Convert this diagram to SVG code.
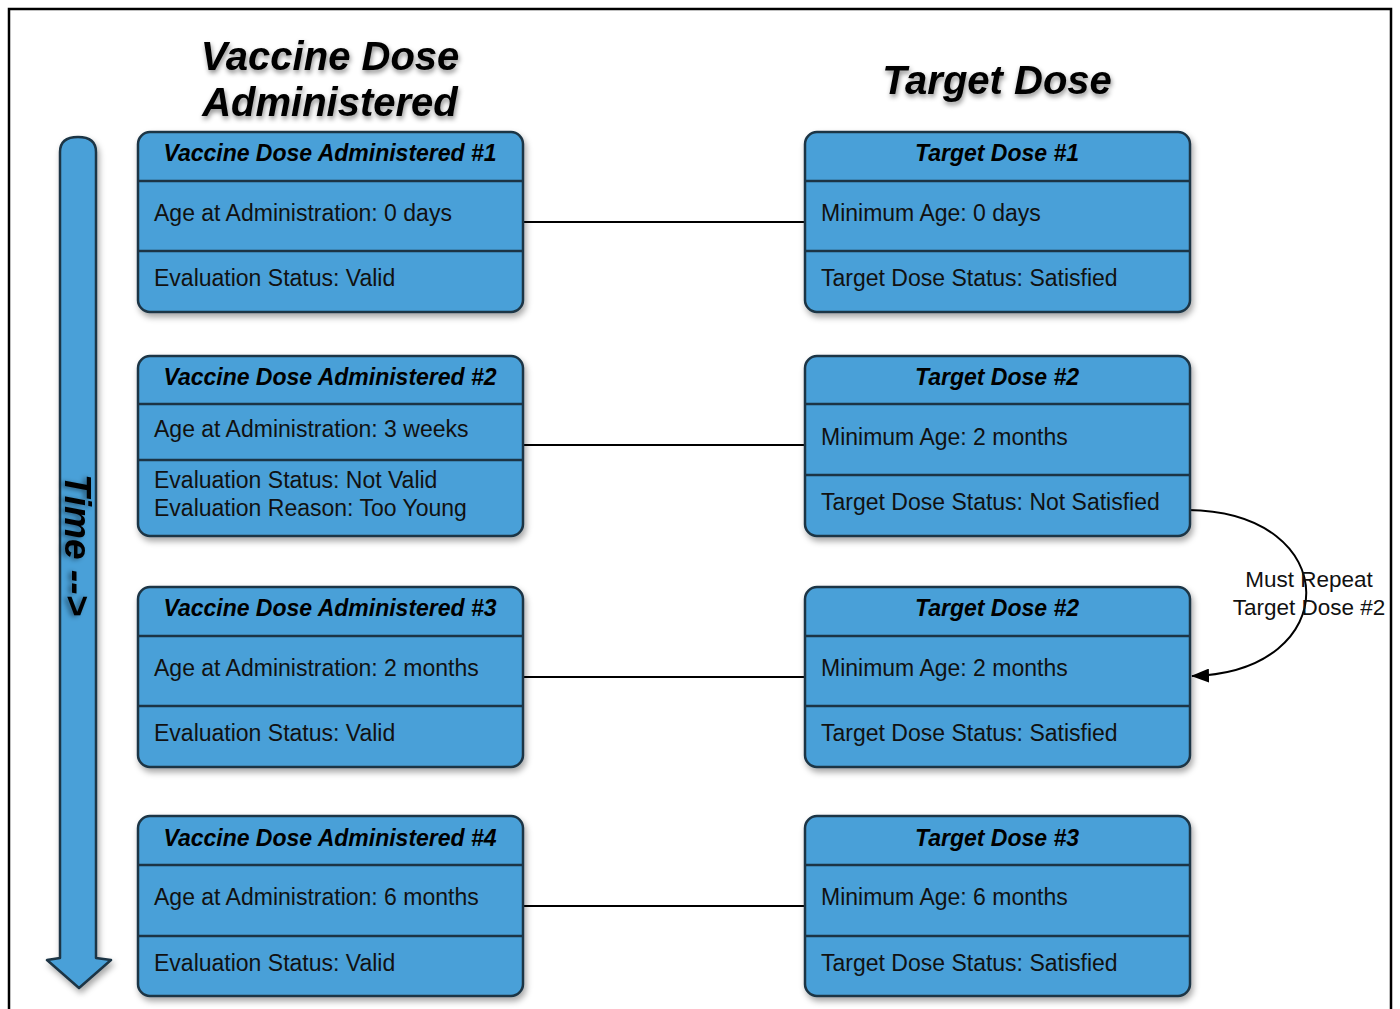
<svg xmlns="http://www.w3.org/2000/svg" width="1400" height="1009" viewBox="0 0 1400 1009">
<defs>
<filter id="sh" x="-10%" y="-10%" width="125%" height="130%">
<feDropShadow dx="2" dy="4" stdDeviation="3" flood-color="#000" flood-opacity="0.35"/>
</filter>
<filter id="tsh" x="-10%" y="-20%" width="120%" height="150%">
<feDropShadow dx="1" dy="3" stdDeviation="2.5" flood-color="#000" flood-opacity="0.45"/>
</filter>
<marker id="ah" markerWidth="18" markerHeight="14" refX="17" refY="7" orient="auto" markerUnits="userSpaceOnUse">
<path d="M0,0 L18,7 L0,14 z" fill="#000"/>
</marker>
</defs>
<style>
.box{fill:#4aa0d8;stroke:#1c3445;stroke-width:2.5}
.div{stroke:#1c3445;stroke-width:2.5}
.hd{font-family:"Liberation Sans",Arial,sans-serif;font-weight:bold;font-style:italic;font-size:23px;fill:#000;text-anchor:middle}
.tx{font-family:"Liberation Sans",Arial,sans-serif;font-size:23px;fill:#111}
.title{font-family:"Liberation Sans",Arial,sans-serif;font-weight:bold;font-style:italic;font-size:40px;fill:#000;text-anchor:middle}
.conn{stroke:#000;stroke-width:2;fill:none}
.lbl{font-family:"Liberation Sans",Arial,sans-serif;font-size:22.5px;fill:#111;text-anchor:middle}
</style>
<rect width="1400" height="1009" fill="#fff"/>
<path d="M9,1009 V9 H1391 V1009" fill="none" stroke="#000" stroke-width="2.5"/>

<g id="titles" filter="url(#tsh)">
<text class="title" x="330" y="70">Vaccine Dose</text>
<text class="title" x="330" y="116">Administered</text>
<text class="title" x="997" y="94">Target Dose</text>
</g>

<g id="time-arrow">
<path d="M60,152 Q60,137 78,137 Q96,137 96,152 L96,958 L111,960 L79,988 L47,960 L60,958 Z" fill="#4aa0d8" stroke="#1c3445" stroke-width="2.5" stroke-linejoin="round" filter="url(#sh)"/>
<text transform="translate(65,545) rotate(90)" text-anchor="middle" font-family="'Liberation Sans',Arial,sans-serif" font-weight="bold" font-style="italic" font-size="37" fill="#000" filter="url(#tsh)">Time --&gt;</text>
</g>

<g id="connectors">
<line class="conn" x1="523" y1="222" x2="805" y2="222"/>
<line class="conn" x1="523" y1="445" x2="805" y2="445"/>
<line class="conn" x1="523" y1="677" x2="805" y2="677"/>
<line class="conn" x1="523" y1="906" x2="805" y2="906"/>
<path class="conn" d="M1188,510 C1345,512 1345,672 1192,676" marker-end="url(#ah)"/>
<text class="lbl" x="1309" y="587">Must Repeat</text>
<text class="lbl" x="1309" y="615">Target Dose #2</text>
</g>

<g id="vda1">
<rect class="box" x="138" y="132" width="385" height="180" rx="12" filter="url(#sh)"/>
<line class="div" x1="138" y1="181" x2="523" y2="181"/>
<line class="div" x1="138" y1="251" x2="523" y2="251"/>
<text class="hd" x="330" y="161">Vaccine Dose Administered #1</text>
<text class="tx" x="154" y="221">Age at Administration: 0 days</text>
<text class="tx" x="154" y="286">Evaluation Status: Valid</text>
</g>

<g id="vda2">
<rect class="box" x="138" y="356" width="385" height="180" rx="12" filter="url(#sh)"/>
<line class="div" x1="138" y1="404" x2="523" y2="404"/>
<line class="div" x1="138" y1="460" x2="523" y2="460"/>
<text class="hd" x="330" y="385">Vaccine Dose Administered #2</text>
<text class="tx" x="154" y="437">Age at Administration: 3 weeks</text>
<text class="tx" x="154" y="488">Evaluation Status: Not Valid</text>
<text class="tx" x="154" y="516">Evaluation Reason: Too Young</text>
</g>

<g id="vda3">
<rect class="box" x="138" y="587" width="385" height="180" rx="12" filter="url(#sh)"/>
<line class="div" x1="138" y1="636" x2="523" y2="636"/>
<line class="div" x1="138" y1="706" x2="523" y2="706"/>
<text class="hd" x="330" y="616">Vaccine Dose Administered #3</text>
<text class="tx" x="154" y="676">Age at Administration: 2 months</text>
<text class="tx" x="154" y="741">Evaluation Status: Valid</text>
</g>

<g id="vda4">
<rect class="box" x="138" y="816" width="385" height="180" rx="12" filter="url(#sh)"/>
<line class="div" x1="138" y1="865" x2="523" y2="865"/>
<line class="div" x1="138" y1="936" x2="523" y2="936"/>
<text class="hd" x="330" y="846">Vaccine Dose Administered #4</text>
<text class="tx" x="154" y="905">Age at Administration: 6 months</text>
<text class="tx" x="154" y="971">Evaluation Status: Valid</text>
</g>

<g id="td1">
<rect class="box" x="805" y="132" width="385" height="180" rx="12" filter="url(#sh)"/>
<line class="div" x1="805" y1="181" x2="1190" y2="181"/>
<line class="div" x1="805" y1="251" x2="1190" y2="251"/>
<text class="hd" x="997" y="161">Target Dose #1</text>
<text class="tx" x="821" y="221">Minimum Age: 0 days</text>
<text class="tx" x="821" y="286">Target Dose Status: Satisfied</text>
</g>

<g id="td2a">
<rect class="box" x="805" y="356" width="385" height="180" rx="12" filter="url(#sh)"/>
<line class="div" x1="805" y1="404" x2="1190" y2="404"/>
<line class="div" x1="805" y1="475" x2="1190" y2="475"/>
<text class="hd" x="997" y="385">Target Dose #2</text>
<text class="tx" x="821" y="445">Minimum Age: 2 months</text>
<text class="tx" x="821" y="510">Target Dose Status: Not Satisfied</text>
</g>

<g id="td2b">
<rect class="box" x="805" y="587" width="385" height="180" rx="12" filter="url(#sh)"/>
<line class="div" x1="805" y1="636" x2="1190" y2="636"/>
<line class="div" x1="805" y1="706" x2="1190" y2="706"/>
<text class="hd" x="997" y="616">Target Dose #2</text>
<text class="tx" x="821" y="676">Minimum Age: 2 months</text>
<text class="tx" x="821" y="741">Target Dose Status: Satisfied</text>
</g>

<g id="td3">
<rect class="box" x="805" y="816" width="385" height="180" rx="12" filter="url(#sh)"/>
<line class="div" x1="805" y1="865" x2="1190" y2="865"/>
<line class="div" x1="805" y1="936" x2="1190" y2="936"/>
<text class="hd" x="997" y="846">Target Dose #3</text>
<text class="tx" x="821" y="905">Minimum Age: 6 months</text>
<text class="tx" x="821" y="971">Target Dose Status: Satisfied</text>
</g>
</svg>
